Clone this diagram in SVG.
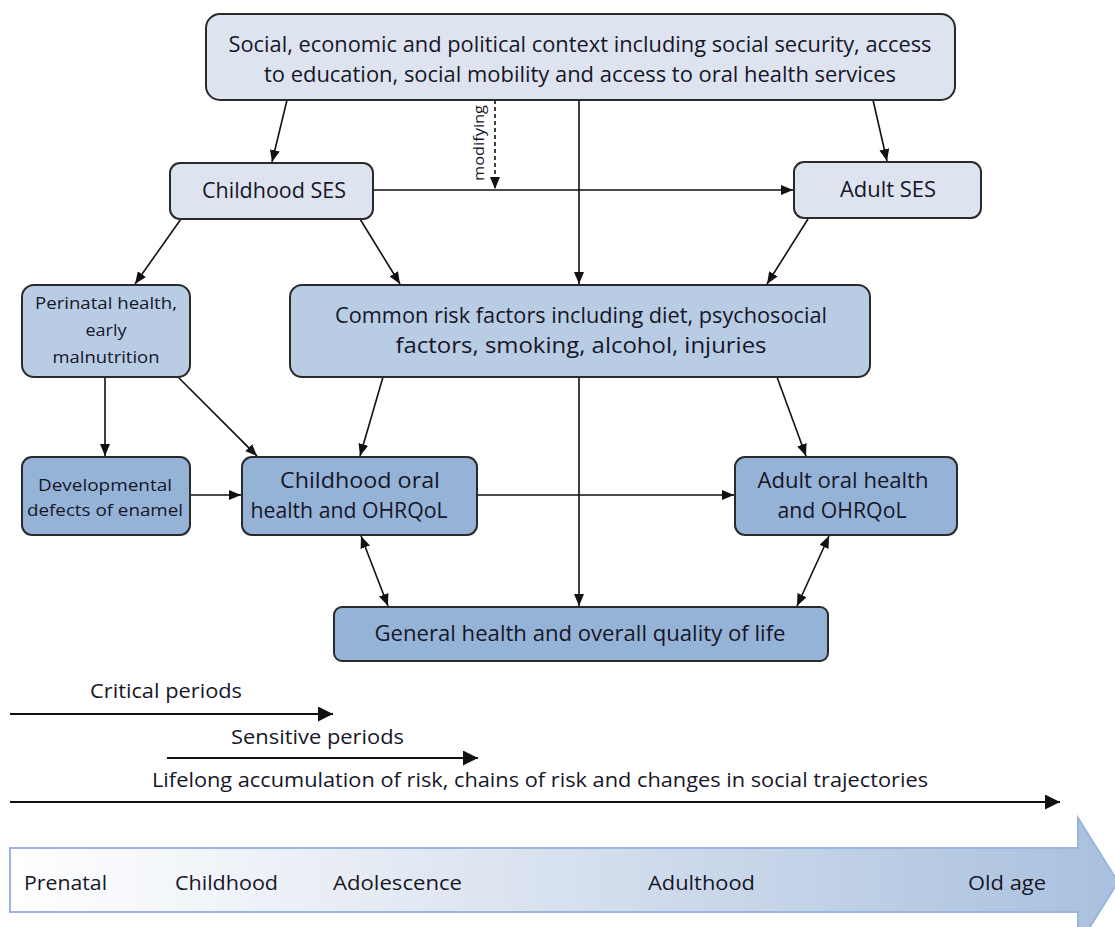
<svg xmlns="http://www.w3.org/2000/svg" width="1115" height="927" viewBox="0 0 1115 927">
  <defs>
    <marker id="ah" viewBox="0 0 12 10" refX="12" refY="5" markerWidth="12" markerHeight="10" markerUnits="userSpaceOnUse" orient="auto-start-reverse">
      <path d="M0,0 L12,5 L0,10 z" fill="#111"/>
    </marker>
    <marker id="ahL" viewBox="0 0 10 10" refX="10" refY="5" markerWidth="15" markerHeight="15" markerUnits="userSpaceOnUse" orient="auto">
      <path d="M0,0 L10,5 L0,10 z" fill="#111"/>
    </marker>
    <linearGradient id="life" x1="0" y1="0" x2="1" y2="0">
      <stop offset="0" stop-color="#ffffff"/>
      <stop offset="0.35" stop-color="#e4eaf3"/>
      <stop offset="1" stop-color="#a9c0de"/>
    </linearGradient>
  </defs>
  <style>
    .box rect { stroke: #2a2a2a; stroke-width: 2; }
    .l1 { fill: #dde4ef; }
    .l2 { fill: #b8cce4; }
    .l3 { fill: #95b3d7; }
    text { font-family: "Open Sans", "Liberation Sans", sans-serif; fill: #161628; }
    .t20 { font-size: 21px; text-anchor: middle; }
    .t17 { font-size: 16.5px; text-anchor: middle; }
    .t19 { font-size: 19.5px; }
    .conn line, .conn path { stroke: #111; stroke-width: 1.6; fill: none; }
    .dash { stroke-dasharray: 4 3; }
  </style>

  <rect width="1115" height="927" fill="#ffffff"/>

  <!-- connectors -->
  <g class="conn">
    <line x1="287" y1="100" x2="272" y2="162" marker-end="url(#ah)"/>
    <line x1="873" y1="100" x2="887" y2="161" marker-end="url(#ah)"/>
    <line x1="579" y1="100" x2="579" y2="284" marker-end="url(#ah)"/>
    <line class="dash" x1="495" y1="100" x2="495" y2="189" marker-end="url(#ah)"/>
    <line x1="373" y1="190" x2="793" y2="190" marker-end="url(#ah)"/>
    <line x1="181" y1="219" x2="135" y2="284" marker-end="url(#ah)"/>
    <line x1="360" y1="219" x2="400" y2="284" marker-end="url(#ah)"/>
    <line x1="808" y1="219" x2="767" y2="284" marker-end="url(#ah)"/>
    <line x1="105" y1="377" x2="105" y2="456" marker-end="url(#ah)"/>
    <line x1="178" y1="377" x2="257" y2="456" marker-end="url(#ah)"/>
    <line x1="190" y1="495" x2="241" y2="495" marker-end="url(#ah)"/>
    <line x1="383" y1="377" x2="360" y2="456" marker-end="url(#ah)"/>
    <line x1="777" y1="377" x2="806" y2="456" marker-end="url(#ah)"/>
    <line x1="477" y1="495" x2="734" y2="495" marker-end="url(#ah)"/>
    <line x1="579" y1="377" x2="579" y2="606" marker-end="url(#ah)"/>
    <line x1="361" y1="536" x2="388" y2="606" marker-start="url(#ah)" marker-end="url(#ah)"/>
    <line x1="829" y1="536" x2="797" y2="606" marker-start="url(#ah)" marker-end="url(#ah)"/>
  </g>
  <text transform="translate(484,181) rotate(-90)" style="font-size:14px" textLength="76" lengthAdjust="spacingAndGlyphs">modifying</text>

  <!-- nodes -->
  <g id="context" class="box">
    <rect class="l1" x="206" y="14" width="749" height="86" rx="14"/>
    <text class="t20" x="580" y="52" textLength="703" lengthAdjust="spacingAndGlyphs">Social, economic and political context including social security, access</text>
    <text class="t20" x="580" y="82" textLength="632" lengthAdjust="spacingAndGlyphs">to education, social mobility and access to oral health services</text>
  </g>
  <g id="childhood-ses" class="box">
    <rect class="l1" x="170" y="163" width="203" height="56" rx="10"/>
    <text class="t20" x="274" y="198" textLength="144" lengthAdjust="spacingAndGlyphs">Childhood SES</text>
  </g>
  <g id="adult-ses" class="box">
    <rect class="l1" x="794" y="162" width="187" height="56" rx="10"/>
    <text class="t20" x="888" y="197" textLength="96" lengthAdjust="spacingAndGlyphs">Adult SES</text>
  </g>
  <g id="perinatal" class="box">
    <rect class="l2" x="22" y="285" width="168" height="92" rx="12"/>
    <text class="t17" x="106" y="309" textLength="142" lengthAdjust="spacingAndGlyphs">Perinatal health,</text>
    <text class="t17" x="106" y="336" textLength="41" lengthAdjust="spacingAndGlyphs">early</text>
    <text class="t17" x="106" y="363" textLength="107" lengthAdjust="spacingAndGlyphs">malnutrition</text>
  </g>
  <g id="common-risk" class="box">
    <rect class="l2" x="290" y="285" width="580" height="92" rx="12"/>
    <text class="t20" x="581" y="323" textLength="492" lengthAdjust="spacingAndGlyphs">Common risk factors including diet, psychosocial</text>
    <text class="t20" x="581" y="353" textLength="371" lengthAdjust="spacingAndGlyphs">factors, smoking, alcohol, injuries</text>
  </g>
  <g id="developmental" class="box">
    <rect class="l3" x="22" y="457" width="168" height="78" rx="10"/>
    <text class="t17" x="105" y="491" textLength="134" lengthAdjust="spacingAndGlyphs">Developmental</text>
    <text class="t17" x="105" y="516" textLength="156" lengthAdjust="spacingAndGlyphs">defects of enamel</text>
  </g>
  <g id="childhood-oral" class="box">
    <rect class="l3" x="242" y="457" width="235" height="78" rx="10"/>
    <text class="t20" x="360" y="488" textLength="160" lengthAdjust="spacingAndGlyphs">Childhood oral</text>
    <text class="t20" x="349" y="518" textLength="197" lengthAdjust="spacingAndGlyphs">health and OHRQoL</text>
  </g>
  <g id="adult-oral" class="box">
    <rect class="l3" x="735" y="457" width="222" height="78" rx="10"/>
    <text class="t20" x="843" y="488" textLength="171" lengthAdjust="spacingAndGlyphs">Adult oral health</text>
    <text class="t20" x="842" y="518" textLength="129" lengthAdjust="spacingAndGlyphs">and OHRQoL</text>
  </g>
  <g id="general-health" class="box">
    <rect class="l3" x="334" y="607" width="494" height="54" rx="8"/>
    <text class="t20" x="580" y="641" textLength="411" lengthAdjust="spacingAndGlyphs">General health and overall quality of life</text>
  </g>

  <!-- life-course periods -->
  <g id="periods" class="conn">
    <line x1="10" y1="714" x2="333" y2="714" marker-end="url(#ahL)" style="stroke-width:2"/>
    <line x1="167" y1="758" x2="478" y2="758" marker-end="url(#ahL)" style="stroke-width:2"/>
    <line x1="10" y1="802" x2="1060" y2="802" marker-end="url(#ahL)" style="stroke-width:2"/>
  </g>
  <text class="t19" x="90" y="698" textLength="152" lengthAdjust="spacingAndGlyphs">Critical periods</text>
  <text class="t19" x="231" y="744" textLength="173" lengthAdjust="spacingAndGlyphs">Sensitive periods</text>
  <text class="t19" x="152" y="787" textLength="776" lengthAdjust="spacingAndGlyphs">Lifelong accumulation of risk, chains of risk and changes in social trajectories</text>

  <!-- life stage arrow -->
  <g id="life-stages">
    <polygon points="10,848 1078,848 1078,818 1118,882 1078,946 1078,912 10,912" fill="url(#life)" stroke="#9ab6dc" stroke-width="2"/>
    <text class="t19" x="24" y="890" textLength="83" lengthAdjust="spacingAndGlyphs">Prenatal</text>
    <text class="t19" x="175" y="890" textLength="103" lengthAdjust="spacingAndGlyphs">Childhood</text>
    <text class="t19" x="333" y="890" textLength="129" lengthAdjust="spacingAndGlyphs">Adolescence</text>
    <text class="t19" x="648" y="890" textLength="107" lengthAdjust="spacingAndGlyphs">Adulthood</text>
    <text class="t19" x="968" y="890" textLength="78" lengthAdjust="spacingAndGlyphs">Old age</text>
  </g>
</svg>
